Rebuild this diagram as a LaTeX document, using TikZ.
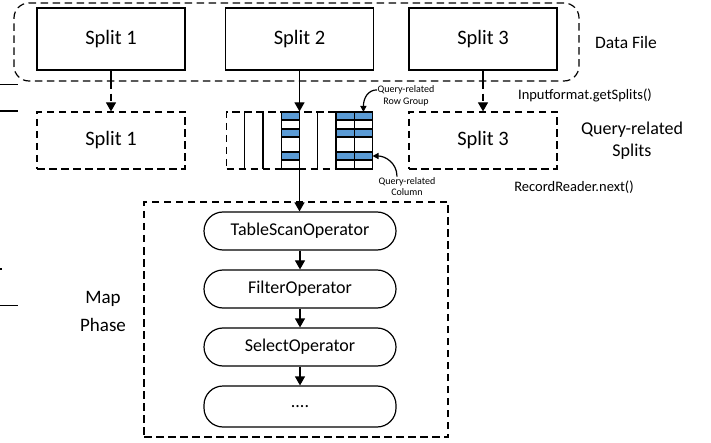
\documentclass[tikz,border=0pt]{standalone}
\usepackage{fontspec}
\setmainfont{Carlito}
\usetikzlibrary{arrows.meta,calc}
\definecolor{cellblue}{RGB}{91,155,213}
\begin{document}
\begin{tikzpicture}[x=1pt,y=-1pt,line width=1.2pt,
  dashline/.style={dash pattern=on 7.5pt off 4.5pt},
  tip/.style={-{Triangle[length=9pt,width=10pt]}},
  smalltip/.style={-{Triangle[length=6pt,width=6pt]}},
  splitbox/.style={draw,minimum width=148pt,minimum height=62pt,inner sep=0pt,
    font=\fontsize{20.5}{24}\selectfont},
  qsplit/.style={splitbox,dashline,minimum height=57pt},
  opbox/.style={draw,rounded corners=19pt,minimum width=192pt,minimum height=38pt,
    inner sep=0pt,font=\fontsize{18}{22}\selectfont},
  sidelabel/.style={inner sep=0pt,align=center},
  tinylabel/.style={inner sep=0pt,align=center,font=\fontsize{10}{11.5}\selectfont}
]
\useasboundingbox (0,0) rectangle (711,443);

% data file with its three splits
\node[draw,dashline,rounded corners=15pt,minimum width=565pt,minimum height=78pt,inner sep=0pt] (file) at (296.5,42) {};
\node[splitbox] (s1) at (111,39) {Split 1};
\node[splitbox] (s2) at (299.5,39) {Split 2};
\node[splitbox] (s3) at (483,39) {Split 3};
\node[sidelabel,font=\fontsize{17.5}{21}\selectfont] (datafile) at (626,42) {Data File};

% query-related splits
\node[qsplit] (q1) at (111,140.5) {Split 1};
\node[qsplit] (q3) at (483,140.5) {Split 3};
\node[draw,dashline,minimum width=146pt,minimum height=57pt,inner sep=0pt] (grid) at (299.5,140.5) {};

% columns of split 2
\foreach \x in {244.75,263,317.75}
  \draw (\x,112) -- (\x,169);
\foreach \x in {281.25,336,354.25} {
  \foreach \ya/\yb in {112/120,129/137,152/160}
    \fill[cellblue] (\x,\ya) rectangle (\x+18.25,\yb);
  \foreach \ya/\yb in {112/120,120/129,129/137,137/152,152/160,160/169}
    \draw (\x,\ya) rectangle (\x+18.25,\yb);
}
\coordinate (rgtop) at (363.4,112);
\coordinate (colside) at (372.5,156);

\node[sidelabel,font=\fontsize{14.5}{17}\selectfont] (getsplits) at (585,95) {Inputformat.getSplits()};
\node[sidelabel,font=\fontsize{18}{22}\selectfont] (qsplits) at (632,141) {Query-related\\Splits};
\node[sidelabel,font=\fontsize{14.5}{17}\selectfont] (recnext) at (574,187) {RecordReader.next()};

\node[tinylabel] (rglabel) at (406,96) {Query-related\\Row Group};
\node[tinylabel] (collabel) at (407,186.5) {Query-related\\Column};

\draw[smalltip] (rglabel.north west) ++(0,4.5) .. controls +(-9,0) and (363.4,98) .. (rgtop);
\draw[smalltip] ($(collabel.north)+(-10,0)$) .. controls +(0,-14) and (385,156) .. (colside);

% map phase
\node[draw,dashline,minimum width=304pt,minimum height=235pt,inner sep=0pt] (map) at (296,319.5) {};
\node[sidelabel,font=\fontsize{19}{28}\selectfont] (maplabel) at (103,311) {Map\\Phase};
\node[opbox] (op1) at (300,231) {TableScanOperator};
\node[opbox] (op2) at (300,289) {FilterOperator};
\node[opbox] (op3) at (300,347) {SelectOperator};
\node[opbox,minimum height=41pt] (op4) at (300,406.5) {....};

% connectors
\draw (s1.south) -- (s1.south |- file.south);
\draw[dashline,tip] (s1.south |- file.south) -- (q1.north);
\draw (s3.south) -- (s3.south |- file.south);
\draw[dashline,tip] (s3.south |- file.south) -- (q3.north);
\draw[tip] (s2.south) -- (grid.north);
\draw[tip] (grid.south) -- (grid.south |- op1.north);
\draw[tip] (op1) -- (op2);
\draw[tip] (op2) -- (op3);
\draw[tip] (op3) -- (op4);

% rule ends at the left margin
\coordinate (ra) at (0,84.5);
\coordinate (rb) at (0,111);
\coordinate (rc) at (0,305.5);
\draw (ra) -- ++(18,0);
\draw (rb) -- ++(18,0);
\draw (rc) -- ++(18,0);
\draw (0,269) -- ++(1.5,0);
\end{tikzpicture}
\end{document}
